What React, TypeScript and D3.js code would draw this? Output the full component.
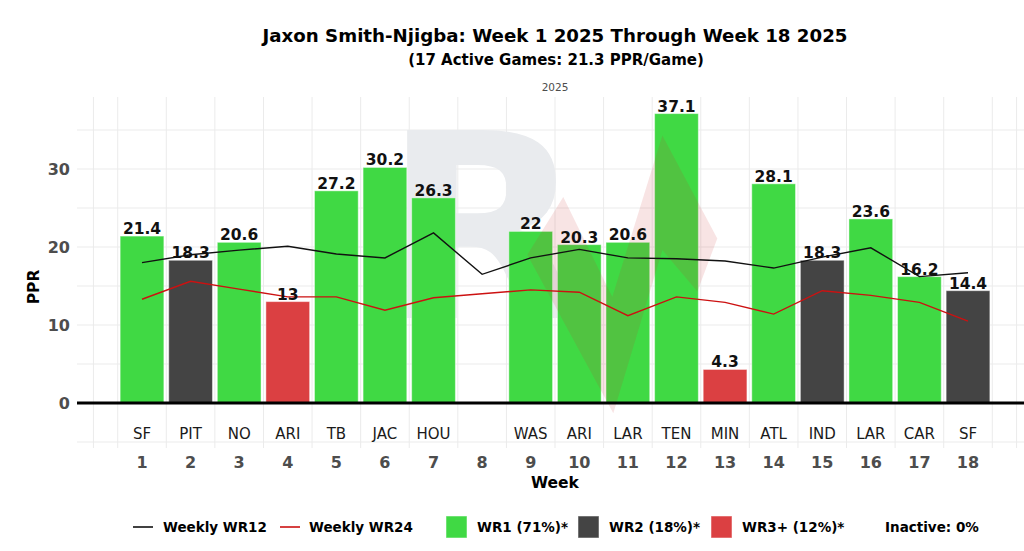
import React from 'react'
import * as d3 from 'd3'

// weekly fantasy points (week 8 = bye)
const weeks = [1, 2, 3, 4, 5, 6, 7, 9, 10, 11, 12, 13, 14, 15, 16, 17, 18]
const opponents = ['SF', 'PIT', 'NO', 'ARI', 'TB', 'JAC', 'HOU', 'WAS', 'ARI', 'LAR', 'TEN', 'MIN', 'ATL', 'IND', 'LAR', 'CAR', 'SF']
const ppr = [21.4, 18.3, 20.6, 13, 27.2, 30.2, 26.3, 22, 20.3, 20.6, 37.1, 4.3, 28.1, 18.3, 23.6, 16.2, 14.4]
const tier = ['WR1', 'WR2', 'WR1', 'WR3+', 'WR1', 'WR1', 'WR1', 'WR1', 'WR1', 'WR1', 'WR1', 'WR3+', 'WR1', 'WR2', 'WR1', 'WR1', 'WR2']

// weekly positional benchmarks, weeks 1-18
const benchWeeks = d3.range(1, 19)
const wr12 = [18.0, 19.0, 19.6, 20.1, 19.1, 18.6, 21.8, 16.5, 18.6, 19.7, 18.6, 18.5, 18.2, 17.3, 18.7, 19.9, 16.2, 16.7]
const wr24 = [13.3, 15.6, 14.6, 13.6, 13.6, 11.9, 13.5, 14.0, 14.5, 14.2, 11.2, 13.6, 12.9, 11.4, 14.4, 13.8, 12.9, 10.5]

const weekTicks = d3.range(1, 19)
const yTicks = [0, 10, 20, 30]

const tierColor: Record<string, string> = {
  'WR1': '#40d944',
  'WR2': '#444444',
  'WR3+': '#db4042',
}

const W = 1024
const H = 551
const panel = { left: 77, right: 1024, top: 97, bottom: 448 }

export default function App() {
  const x = d3.scaleLinear().domain([1, 18]).range([142, 968])
  const y = d3.scaleLinear().domain([0, 30]).range([403, 169])
  const barW = (x(2) - x(1)) * 0.9

  const line = d3.line<number>()
    .x((_, i) => x(benchWeeks[i]))
    .y(d => y(d))

  const vGrid = [0, ...d3.range(0.5, 19, 1), 19]
  const hGrid = d3.range(-5, 40, 5)

  const font = 'DejaVu Sans, sans-serif'

  // watermark arrow outline, in data units (week, ppr)
  const arrow: [number, number][] = [
    [8.93, 19], [9.67, 26.4], [10.68, 13.6], [11.71, 34.3], [12.84, 21.1],
    [12.43, 14.3], [11.71, 19.6], [10.7, -1.3],
  ]

  const legendY = 527
  const legendItems = [
    { key: 'WR1', label: 'WR1 (71%)*', x: 446 },
    { key: 'WR2', label: 'WR2 (18%)*', x: 578 },
    { key: 'WR3+', label: 'WR3+ (12%)*', x: 711 },
  ]

  return (
    <svg width={W} height={H} style={{ position: 'absolute', left: 0, top: 0, background: '#fff' }} fontFamily={font}>
      {/* titles */}
      <text x={555} y={42} textAnchor="middle" fontSize={18.2} fontWeight="bold" fill="#000">
        Jaxon Smith-Njigba: Week 1 2025 Through Week 18 2025
      </text>
      <text x={556} y={65} textAnchor="middle" fontSize={15} fontWeight="bold" fill="#000">
        (17 Active Games: 21.3 PPR/Game)
      </text>
      <text x={555} y={91} textAnchor="middle" fontSize={10.5} fill="#4d4d4d">2025</text>

      {/* grid */}
      {hGrid.map(v => (
        <line key={'h' + v} x1={panel.left} x2={panel.right} y1={y(v)} y2={y(v)} stroke="#ebebeb" strokeWidth={1} />
      ))}
      {vGrid.map(v => (
        <line key={'v' + v} x1={x(v)} x2={x(v)} y1={panel.top} y2={panel.bottom} stroke="#ebebeb" strokeWidth={1} />
      ))}

      {/* watermark letter */}
      <text x={0} y={0} fontSize={258} fontWeight="bold" fill="#e9ebee" transform="translate(383,318) scale(1.02,1)">R</text>

      {/* bars */}
      {weeks.map((w, i) => (
        <rect key={w} x={x(w) - barW / 2} y={y(ppr[i])} width={barW} height={y(0) - y(ppr[i])}
          fill={tierColor[tier[i]]} stroke="#ffffff" strokeOpacity={0.45} strokeWidth={1} />
      ))}

      {/* watermark arrow */}
      <polygon points={arrow.map(([a, b]) => `${x(a)},${y(b)}`).join(' ')} fill="#c83030" fillOpacity={0.13} />

      {/* zero line */}
      <line x1={panel.left} x2={panel.right} y1={y(0)} y2={y(0)} stroke="#000" strokeWidth={3} />

      {/* benchmark lines */}
      <path d={line(wr12) || ''} fill="none" stroke="#111" strokeWidth={1.4} />
      <path d={line(wr24) || ''} fill="none" stroke="#cc1111" strokeWidth={1.4} />

      {/* value labels */}
      {weeks.map((w, i) => (
        <text key={'l' + w} x={x(w)} y={y(ppr[i]) - 2} textAnchor="middle" fontSize={15.5} fontWeight="bold" fill="#111">
          {ppr[i]}
        </text>
      ))}

      {/* opponent labels */}
      {weeks.map((w, i) => (
        <text key={'o' + w} x={x(w)} y={439} textAnchor="middle" fontSize={15} fill="#1a1a1a">
          {opponents[i]}
        </text>
      ))}

      {/* x axis */}
      {weekTicks.map(w => (
        <text key={'t' + w} x={x(w)} y={468} textAnchor="middle" fontSize={16} fontWeight="bold" fill="#4d4d4d">{w}</text>
      ))}
      <text x={555} y={488} textAnchor="middle" fontSize={15.5} fontWeight="bold" fill="#000">Week</text>

      {/* y axis */}
      {yTicks.map(v => (
        <text key={'y' + v} x={70} y={y(v) + 6} textAnchor="end" fontSize={16} fontWeight="bold" fill="#4d4d4d">{v}</text>
      ))}
      <text transform={`translate(39,${y(15) + 1}) rotate(-90)`} textAnchor="middle" fontSize={15.5} fontWeight="bold" fill="#000">PPR</text>

      {/* legend */}
      <line x1={133} x2={153} y1={legendY} y2={legendY} stroke="#111" strokeWidth={1.6} />
      <text x={163} y={legendY + 5} fontSize={13.5} fontWeight="bold" fill="#000">Weekly WR12</text>
      <line x1={280} x2={300} y1={legendY} y2={legendY} stroke="#cc1111" strokeWidth={1.6} />
      <text x={309} y={legendY + 5} fontSize={13.5} fontWeight="bold" fill="#000">Weekly WR24</text>
      {legendItems.map(it => (
        <g key={it.key}>
          <rect x={it.x} y={legendY - 11} width={21} height={22} fill={tierColor[it.key]} stroke="#fff" strokeOpacity={0.5} />
          <text x={it.x + 31} y={legendY + 5} fontSize={13.5} fontWeight="bold" fill="#000">{it.label}</text>
        </g>
      ))}
      <text x={885} y={legendY + 5} fontSize={13.5} fontWeight="bold" fill="#000">Inactive: 0%</text>
    </svg>
  )
}
